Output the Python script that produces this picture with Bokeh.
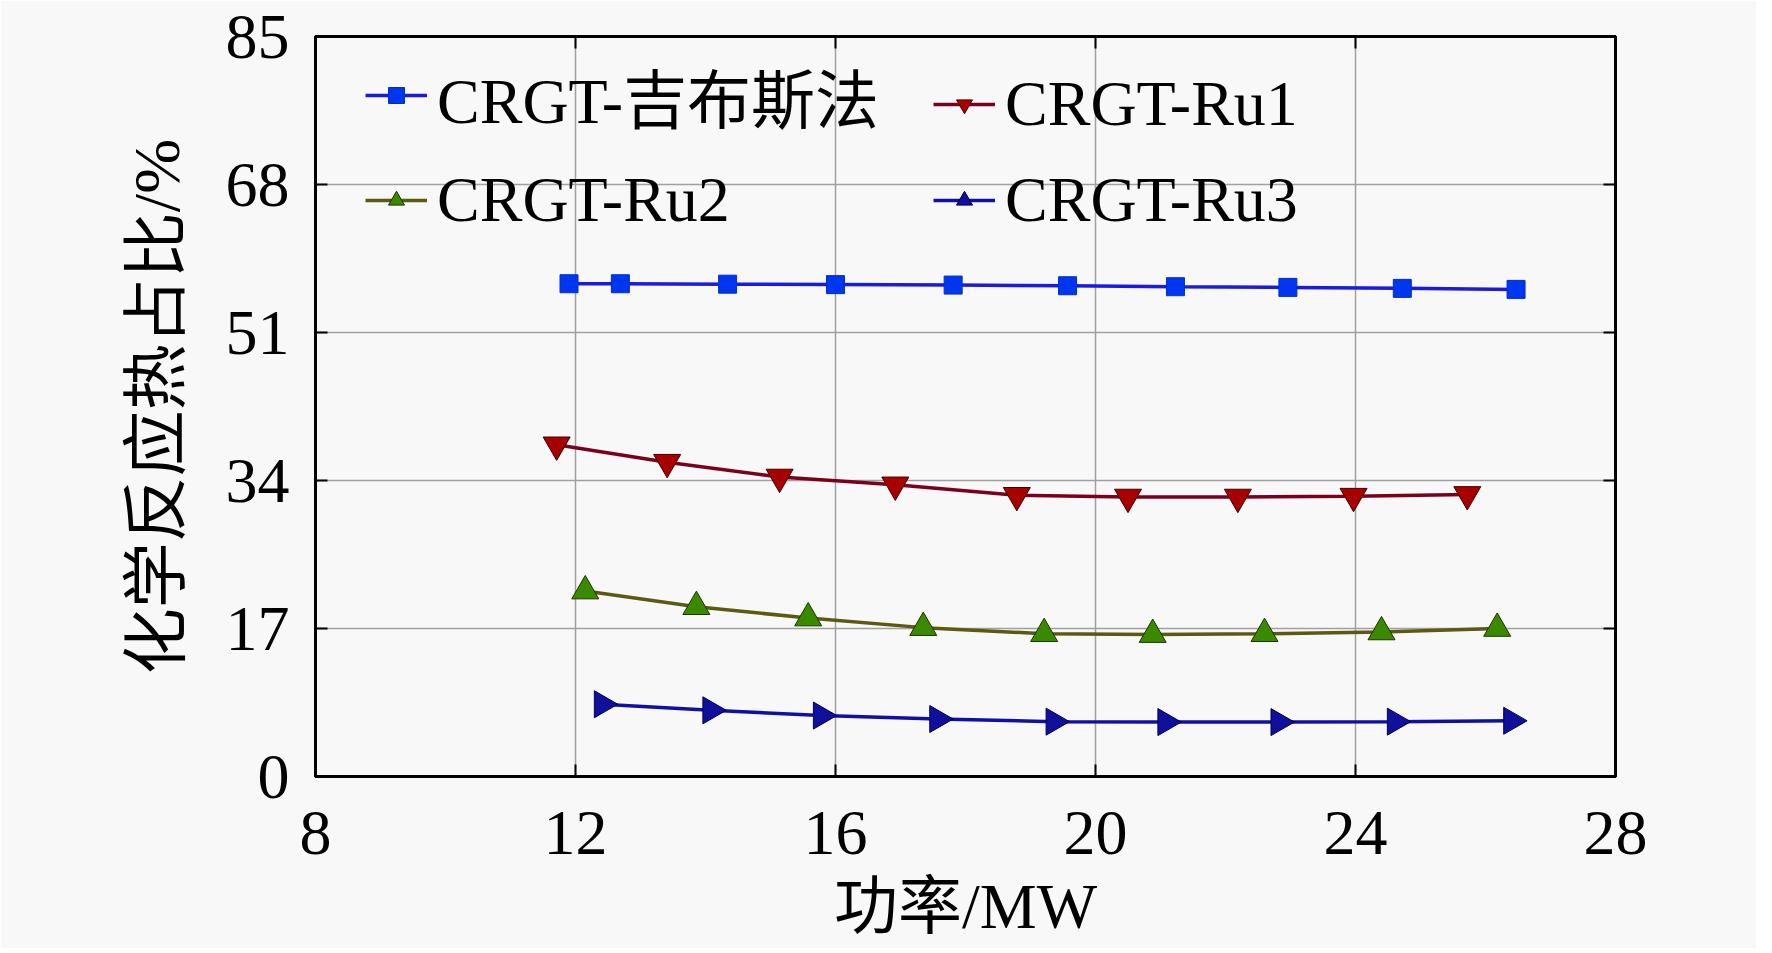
from bokeh.plotting import figure
from bokeh.models import LinearAxis, Legend, LegendItem, FixedTicker, Range1d
from bokeh.embed import file_html
from bokeh.resources import INLINE

# ---- data ----
gibbs_x = [11.90, 12.69, 14.34, 16.00, 17.81, 19.57, 21.23, 22.96, 24.72, 26.47]
gibbs_y = [56.6, 56.6, 56.55, 56.5, 56.45, 56.37, 56.26, 56.18, 56.07, 55.95]

ru1_x = [11.71, 13.41, 15.14, 16.92, 18.79, 20.50, 22.19, 23.97, 25.72]
ru1_y = [38.1, 36.1, 34.4, 33.5, 32.3, 32.1, 32.1, 32.2, 32.4]

ru2_x = [12.15, 13.86, 15.58, 17.35, 19.21, 20.88, 22.60, 24.40, 26.18]
ru2_y = [21.3, 19.5, 18.2, 17.1, 16.4, 16.3, 16.4, 16.6, 17.0]

ru3_x = [12.41, 14.08, 15.78, 17.57, 19.36, 21.08, 22.82, 24.61, 26.40]
ru3_y = [8.3, 7.6, 7.0, 6.6, 6.3, 6.25, 6.25, 6.3, 6.4]

x_ticks = [8, 12, 16, 20, 24, 28]
y_ticks = [0, 17, 34, 51, 68, 85]

labels = ["CRGT-吉布斯法", "CRGT-Ru1", "CRGT-Ru2", "CRGT-Ru3"]
x_label = "功率/MW"
y_label = "化学反应热占比/%"

FONT = "'Liberation Serif', 'Times New Roman', 'Noto Sans CJK SC', serif"
BG = "#f8f8f8"
FS = "64px"

p = figure(width=1756, height=948, output_backend="svg", toolbar_location=None,
           x_range=Range1d(8, 28), y_range=Range1d(0, 85),
           min_border_left=315, min_border_right=141,
           min_border_top=36, min_border_bottom=172)
p.background_fill_color = BG
p.border_fill_color = BG
p.outline_line_color = "black"
p.outline_line_width = 3

for ax, ticks in ((p.xaxis[0], x_ticks), (p.yaxis[0], y_ticks)):
    ax.ticker = FixedTicker(ticks=ticks)
    ax.major_label_text_font = FONT
    ax.major_label_text_font_size = FS
    ax.major_label_text_color = "black"
    ax.axis_line_color = "black"
    ax.axis_line_width = 3
    ax.major_tick_in = 12
    ax.major_tick_out = 0
    ax.major_tick_line_width = 2
    ax.major_tick_line_color = "black"
    ax.minor_tick_line_color = None
    ax.axis_label_text_font = FONT
    ax.axis_label_text_font_size = FS
    ax.axis_label_text_font_style = "normal"
    ax.axis_label_text_color = "black"

p.xaxis[0].axis_label = x_label
p.yaxis[0].axis_label = y_label
p.yaxis[0].axis_label_text_font_size = "66px"
p.xaxis[0].major_label_standoff = 35
p.yaxis[0].major_label_standoff = 26
p.xaxis[0].axis_label_standoff = 14
p.yaxis[0].axis_label_standoff = 30

for loc, ticks in (("above", x_ticks), ("right", y_ticks)):
    ax = LinearAxis(ticker=FixedTicker(ticks=ticks))
    ax.major_label_text_font_size = "0px"
    ax.major_label_text_color = None
    ax.axis_line_color = "black"
    ax.axis_line_width = 3
    ax.major_tick_in = 12
    ax.major_tick_out = 0
    ax.major_tick_line_width = 2
    ax.minor_tick_line_color = None
    ax.major_label_standoff = 0
    p.add_layout(ax, loc)

p.xgrid.ticker = FixedTicker(ticks=x_ticks)
p.ygrid.ticker = FixedTicker(ticks=y_ticks)
p.xgrid.grid_line_color = "#a0a0a0"
p.ygrid.grid_line_color = "#a0a0a0"
p.xgrid.grid_line_width = 1.5
p.ygrid.grid_line_width = 1.5

series = [
    (gibbs_x, gibbs_y, "#1a1ae0", "#0036f0", "#0030c0", "square", 18),
    (ru1_x, ru1_y, "#7a0020", "#a80000", "#400000", "inverted_triangle", 27),
    (ru2_x, ru2_y, "#5a5a10", "#3a8a00", "#203000", "triangle", 27),
    (ru3_x, ru3_y, "#1010a8", "#10109a", "#000050", "triangle", 27),
]

items = []
for i, (xs, ys, lc, fc, ec, mk, sz) in enumerate(series):
    r1 = p.line(xs, ys, line_color=lc, line_width=3.5)
    if i == 3:
        r2 = p.scatter(xs, ys, marker="triangle", size=sz, fill_color=fc,
                       line_color=ec, line_width=1, angle=-1.5708)
    else:
        r2 = p.scatter(xs, ys, marker=mk, size=sz, fill_color=fc,
                       line_color=ec, line_width=1)
    items.append(LegendItem(label=labels[i], renderers=[r1, r2]))

def make_legend(its, x, y):
    lg = Legend(items=its, location=(x, y), orientation="vertical")
    lg.background_fill_alpha = 0
    lg.border_line_color = None
    lg.label_text_font = FONT
    lg.label_text_font_size = FS
    lg.label_text_color = "black"
    lg.glyph_width = 62
    lg.glyph_height = 40
    lg.label_height = 70
    lg.label_standoff = 10
    lg.spacing = 22
    lg.padding = 0
    lg.margin = 0
    return lg

p.add_layout(make_legend([items[0], items[2]], 50, 539), "center")
p.add_layout(make_legend([items[1], items[3]], 618, 539), "center")

open("out.html", "w").write(file_html(p, INLINE))
